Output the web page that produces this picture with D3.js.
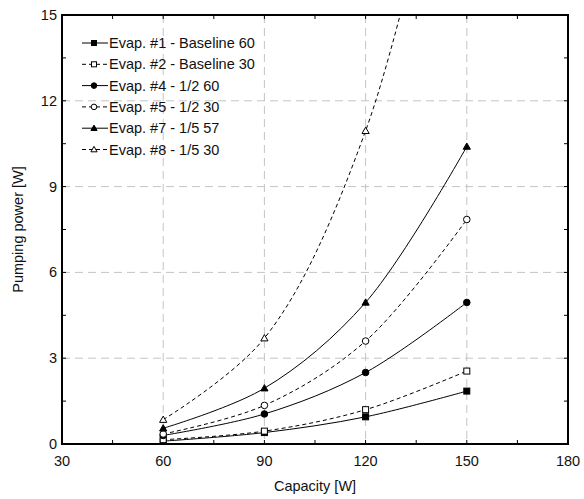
<!DOCTYPE html>
<html>
<head>
<meta charset="utf-8">
<script src="https://cdn.jsdelivr.net/npm/d3@7"></script>
<style>
  body { margin: 0; background: #fff; }
  text { font-family: "Liberation Sans", Arial, sans-serif; fill: #111; }
</style>
</head>
<body>
<div id="chart"></div>
<script>
const width = 584;
const height = 499;
const margin = {top: 15, right: 16, bottom: 55, left: 62};

// data
const capacity = [60, 90, 120, 150];
const seriesNames = [
  "Evap. #1 - Baseline 60",
  "Evap. #2 - Baseline 30",
  "Evap. #4 - 1/2 60",
  "Evap. #5 - 1/2 30",
  "Evap. #7 - 1/5 57",
  "Evap. #8 - 1/5 30"
];
const evap1 = [0.1, 0.4, 0.95, 1.85];
const evap2 = [0.15, 0.45, 1.2, 2.55];
const evap4 = [0.3, 1.05, 2.5, 4.95];
const evap5 = [0.35, 1.35, 3.6, 7.85];
const evap7 = [0.55, 1.95, 4.95, 10.4];
const evap8 = [0.85, 3.7, 10.95, 25];
const xTicks = [30, 60, 90, 120, 150, 180];
const yTicks = [0, 3, 6, 9, 12, 15];

const values = [evap1, evap2, evap4, evap5, evap7, evap8];
const markers = ["square", "square", "circle", "circle", "triangle", "triangle"];
const filled = [true, false, true, false, true, false];
const dashed = [false, true, false, true, false, true];

const x = d3.scaleLinear().domain([30, 180]).range([margin.left, width - margin.right]);
const y = d3.scaleLinear().domain([0, 15]).range([height - margin.bottom, margin.top]);

const svg = d3.select("#chart").append("svg")
  .attr("width", width)
  .attr("height", height);

svg.append("clipPath").attr("id", "clip")
  .append("rect")
  .attr("x", margin.left).attr("y", margin.top)
  .attr("width", width - margin.left - margin.right)
  .attr("height", height - margin.top - margin.bottom);

// grid
const grid = svg.append("g")
  .attr("stroke", "#c4c4c4")
  .attr("stroke-width", 1)
  .attr("stroke-dasharray", "8,5");
grid.selectAll(".vg").data(xTicks.slice(1, -1)).join("line")
  .attr("x1", d => x(d)).attr("x2", d => x(d))
  .attr("y1", y(15)).attr("y2", y(0));
grid.selectAll(".hg").data(yTicks.slice(1, -1)).join("line")
  .attr("y1", d => y(d)).attr("y2", d => y(d))
  .attr("x1", x(30)).attr("x2", x(180));

// inward ticks on all four sides
const minorX = d3.range(45, 180, 30);
const minorY = d3.range(1.5, 15, 3);
const ticks = svg.append("g").attr("stroke", "#000").attr("stroke-width", 1);
[y(0), y(15)].forEach((yy, i) => {
  const dir = i == 0 ? -1 : 1;
  ticks.append("g").selectAll("line").data(minorX.concat(xTicks)).join("line")
    .attr("x1", d => x(d)).attr("x2", d => x(d))
    .attr("y1", yy).attr("y2", yy + dir * 4);
});
[x(30), x(180)].forEach((xx, i) => {
  const dir = i == 0 ? 1 : -1;
  ticks.append("g").selectAll("line").data(minorY.concat(yTicks)).join("line")
    .attr("y1", d => y(d)).attr("y2", d => y(d))
    .attr("x1", xx).attr("x2", xx + dir * 4);
});

// series lines
const line = d3.line()
  .x((d, i) => x(capacity[i]))
  .y(d => y(d))
  .curve(d3.curveCatmullRom.alpha(0.5));

const plot = svg.append("g").attr("clip-path", "url(#clip)");
values.forEach((vals, k) => {
  plot.append("path")
    .attr("d", line(vals))
    .attr("fill", "none")
    .attr("stroke", "#000")
    .attr("stroke-width", 1)
    .attr("stroke-dasharray", dashed[k] ? "4,3" : null);
});

function drawMarker(g, type, fill, cx, cy, s) {
  const f = fill ? "#000" : "#fff";
  if (type == "square") {
    g.append("rect").attr("x", cx - s).attr("y", cy - s)
      .attr("width", 2 * s).attr("height", 2 * s)
      .attr("fill", f).attr("stroke", "#000").attr("stroke-width", 1);
  } else if (type == "circle") {
    g.append("circle").attr("cx", cx).attr("cy", cy).attr("r", s + 0.3)
      .attr("fill", f).attr("stroke", "#000").attr("stroke-width", 1);
  } else {
    const h = s + 0.6;
    g.append("path")
      .attr("d", `M${cx},${cy - h}L${cx + h},${cy + h * 0.75}L${cx - h},${cy + h * 0.75}Z`)
      .attr("fill", f).attr("stroke", "#000").attr("stroke-width", 1);
  }
}

const marks = plot.append("g");
values.forEach((vals, k) => {
  vals.forEach((v, i) => {
    if (v <= 15) drawMarker(marks, markers[k], filled[k], x(capacity[i]), y(v), 3);
  });
});

// frame
svg.append("rect")
  .attr("x", margin.left).attr("y", margin.top)
  .attr("width", width - margin.left - margin.right)
  .attr("height", height - margin.top - margin.bottom)
  .attr("fill", "none").attr("stroke", "#000").attr("stroke-width", 2);

// tick labels
svg.append("g").selectAll("text").data(xTicks).join("text")
  .attr("x", d => x(d)).attr("y", y(0) + 22)
  .attr("text-anchor", "middle")
  .style("font-size", "14.5px")
  .text(d => d);
svg.append("g").selectAll("text").data(yTicks).join("text")
  .attr("x", margin.left - 5).attr("y", d => y(d) + 5)
  .attr("text-anchor", "end")
  .style("font-size", "14.5px")
  .text(d => d);

// axis titles
svg.append("text")
  .attr("x", (margin.left + width - margin.right) / 2).attr("y", 491)
  .attr("text-anchor", "middle")
  .style("font-size", "14.5px")
  .text("Capacity [W]");
svg.append("text")
  .attr("transform", `translate(23,${(margin.top + height - margin.bottom) / 2}) rotate(-90)`)
  .attr("text-anchor", "middle")
  .style("font-size", "14.5px")
  .text("Pumping power [W]");

// legend
const legend = svg.append("g");
seriesNames.forEach((name, k) => {
  const ly = 43 + k * 21.3;
  legend.append("line")
    .attr("x1", 82).attr("x2", 108).attr("y1", ly).attr("y2", ly)
    .attr("stroke", "#000").attr("stroke-width", 1)
    .attr("stroke-dasharray", dashed[k] ? "4,3" : null);
  drawMarker(legend, markers[k], filled[k], 94, ly, 2.5);
  legend.append("text")
    .attr("x", 109).attr("y", ly + 5)
    .style("font-size", "14.5px")
    .text(name);
});
</script>
</body>
</html>
